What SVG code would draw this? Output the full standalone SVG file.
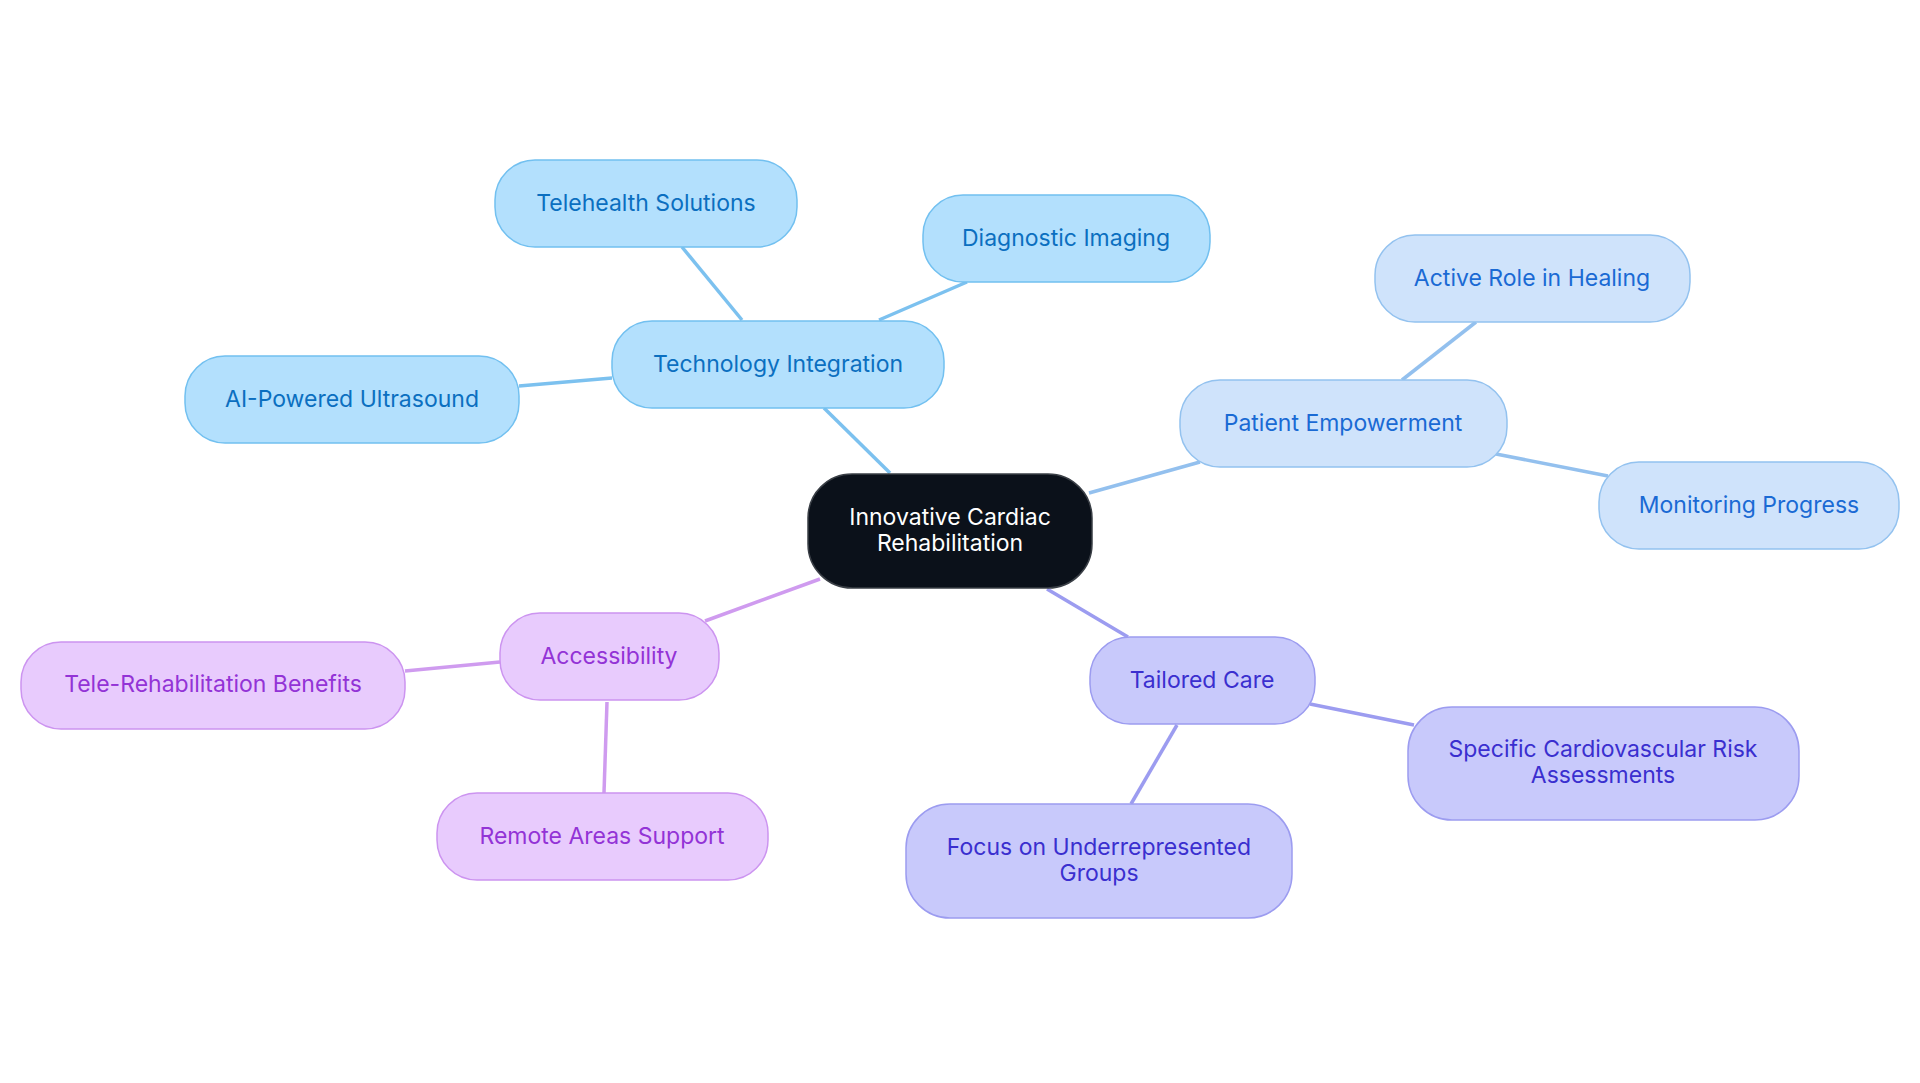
<svg xmlns="http://www.w3.org/2000/svg" width="1920" height="1083" viewBox="0 0 1920 1083">
<style>
text{font-family:Inter,"Noto Sans",sans-serif;font-size:23px;text-anchor:middle;dominant-baseline:central}
.b rect{fill:#b3e0fd;stroke:#72c0f0;stroke-width:1.5}.b text{fill:#0b6fc0}
.p rect{fill:#cfe3fb;stroke:#93c2ef;stroke-width:1.5}.p text{fill:#1a6ad4}
.t rect{fill:#c8c9fb;stroke:#9c9cf0;stroke-width:1.5}.t text{fill:#3a2fcf}
.v rect{fill:#e8cbfd;stroke:#cc94f0;stroke-width:1.5}.v text{fill:#9333d6}
#edges line{stroke-width:3.5;fill:none}
</style>
<rect width="1920" height="1083" fill="#fff"/>
<g id="edges">
<line x1="890" y1="473" x2="824" y2="408" stroke="#7cc1ef"/>
<line x1="742" y1="320" x2="682" y2="247" stroke="#7cc1ef"/>
<line x1="879" y1="320" x2="967" y2="282" stroke="#7cc1ef"/>
<line x1="612" y1="378" x2="519" y2="386" stroke="#7cc1ef"/>
<line x1="1089" y1="493" x2="1200" y2="462" stroke="#93c0ee"/>
<line x1="1402" y1="380" x2="1476" y2="322" stroke="#93c0ee"/>
<line x1="1496" y1="454" x2="1608" y2="476" stroke="#93c0ee"/>
<line x1="1047" y1="589" x2="1128" y2="637" stroke="#9c9cf0"/>
<line x1="1310" y1="704" x2="1414" y2="725" stroke="#9c9cf0"/>
<line x1="1177" y1="725" x2="1131" y2="804" stroke="#9c9cf0"/>
<line x1="820" y1="579" x2="705" y2="621" stroke="#cf9bef"/>
<line x1="500" y1="662" x2="405" y2="671" stroke="#cf9bef"/>
<line x1="607" y1="702" x2="604" y2="793" stroke="#cf9bef"/>
</g>
<g id="center"><rect x="808" y="474" width="284" height="114" rx="44" fill="#0b111a" stroke="#3a3f46" stroke-width="1.5"/><text x="950" y="517" fill="#fff">Innovative Cardiac</text><text x="950" y="543" fill="#fff">Rehabilitation</text></g>
<g id="tech" class="b"><rect x="612" y="321" width="332" height="87" rx="40"/><text x="778" y="364">Technology Integration</text></g>
<g id="telehealth" class="b"><rect x="495" y="160" width="302" height="87" rx="40"/><text x="646" y="203">Telehealth Solutions</text></g>
<g id="diag" class="b"><rect x="923" y="195" width="287" height="87" rx="40"/><text x="1066" y="238">Diagnostic Imaging</text></g>
<g id="ai" class="b"><rect x="185" y="356" width="334" height="87" rx="40"/><text x="352" y="399">AI-Powered Ultrasound</text></g>
<g id="patient" class="p"><rect x="1180" y="380" width="327" height="87" rx="40"/><text x="1343" y="423">Patient Empowerment</text></g>
<g id="active" class="p"><rect x="1375" y="235" width="315" height="87" rx="40"/><text x="1532" y="278">Active Role in Healing</text></g>
<g id="monitor" class="p"><rect x="1599" y="462" width="300" height="87" rx="40"/><text x="1749" y="505">Monitoring Progress</text></g>
<g id="tailored" class="t"><rect x="1090" y="637" width="225" height="87" rx="40"/><text x="1202" y="680">Tailored Care</text></g>
<g id="specific" class="t"><rect x="1408" y="707" width="391" height="113" rx="44"/><text x="1603" y="749">Specific Cardiovascular Risk</text><text x="1603" y="775">Assessments</text></g>
<g id="focus" class="t"><rect x="906" y="804" width="386" height="114" rx="44"/><text x="1099" y="847">Focus on Underrepresented</text><text x="1099" y="873">Groups</text></g>
<g id="access" class="v"><rect x="500" y="613" width="219" height="87" rx="40"/><text x="609" y="656">Accessibility</text></g>
<g id="telerehab" class="v"><rect x="21" y="642" width="384" height="87" rx="40"/><text x="213" y="684">Tele-Rehabilitation Benefits</text></g>
<g id="remote" class="v"><rect x="437" y="793" width="331" height="87" rx="40"/><text x="602" y="836">Remote Areas Support</text></g>
</svg>
